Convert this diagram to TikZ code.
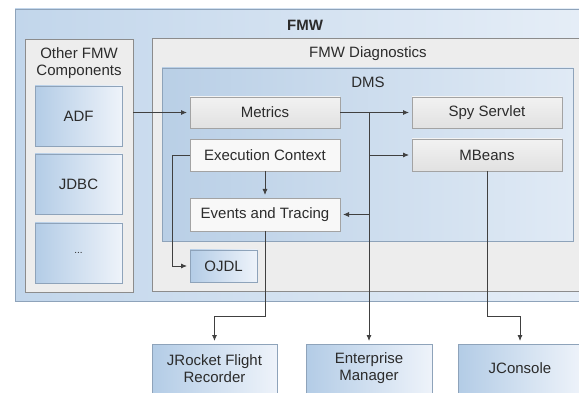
\documentclass[tikz,border=0pt]{standalone}
\usepackage{fontspec}
\setmainfont{Liberation Sans}
\usetikzlibrary{fit,arrows.meta,shadows}
\definecolor{fmwL}{HTML}{C2D6EB}
\definecolor{fmwR}{HTML}{E6EEF7}
\definecolor{dmsL}{HTML}{B9CFE6}
\definecolor{dmsR}{HTML}{E0EAF5}
\definecolor{bL}{HTML}{B3CCE6}
\definecolor{bR}{HTML}{EEF3FA}
\definecolor{contg}{HTML}{EDEDED}
\definecolor{bordg}{HTML}{8C8C8C}
\definecolor{bordb}{HTML}{8EA3BA}
\definecolor{gtop}{HTML}{F2F2F2}
\definecolor{gbot}{HTML}{E1E1E1}
\definecolor{wbox}{HTML}{F8F8F8}
\definecolor{txt}{HTML}{2B2B2B}
\definecolor{linec}{HTML}{404040}
\begin{document}
\begin{tikzpicture}[x=1pt,y=-1pt,
  font=\fontsize{15}{17}\selectfont, text=txt,
  every node/.style={inner sep=0pt, outer sep=0pt},
  shd/.style={drop shadow={shadow xshift=0.8pt,shadow yshift=-0.8pt,opacity=0.35,fill=black}},
  outerbox/.style={draw=bordb, line width=0.8pt, left color=fmwL, right color=fmwR},
  dmsbox/.style={draw=bordb, line width=0.8pt, left color=dmsL, right color=dmsR, shd},
  container/.style={draw=bordg, line width=0.8pt, fill=contg, shd},
  bluebox/.style={draw=bordb, line width=0.6pt, left color=bL, right color=bR, align=center, shd},
  graybox/.style={draw=bordg!80, line width=0.6pt, top color=gtop, bottom color=gbot, align=center, shd},
  whitebox/.style={draw=bordg!80, line width=0.6pt, fill=wbox, align=center, shd},
  conn/.style={draw=linec, line width=0.8pt},
  arr/.style={conn, -{Latex[length=6pt,width=5pt]}, shorten >=3pt},
  title/.style={align=center, text=txt}]
\useasboundingbox (0,0) rectangle (579,393);
\clip (0,0) rectangle (579,393);

% containers
\node[outerbox, fit={(15,9) (595,301)}] (fmw) {};
\node[title, font=\fontsize{15}{17}\selectfont\bfseries] (fmwt) at (305,25) {FMW};

\node[container, fit={(25,39) (133,292)}] (other) {};
\node[title] (othert) at (79,63.5) {Other FMW\\Components};

\node[container, fit={(152,38) (590,291)}] (diag) {};
\node[title] (diagt) at (368,54) {FMW Diagnostics};

\node[dmsbox, fit={(162,68) (573,241)}] (dms) {};
\node[title] (dmst) at (368,82) {DMS};

% left components
\node[bluebox, fit={(35,86) (122,146)}] (adf) {};
\node at (adf.center) {ADF};
\node[bluebox, fit={(35,154) (122,214)}] (jdbc) {};
\node at (jdbc.center) {JDBC};
\node[bluebox, fit={(35,223) (122,283)}] (dots) {};
\node at (dots.center) {\fontsize{10}{12}\selectfont ...};

% DMS components
\node[graybox, fit={(190,97) (340,128)}] (metrics) {};
\node at (metrics.center) {Metrics};
\node[whitebox, fit={(190,139) (340,171)}] (exec) {};
\node at (exec.center) {Execution Context};
\node[whitebox, fit={(190,198) (340,231)}] (events) {};
\node at (events.center) {Events and Tracing};
\node[graybox, fit={(412,97) (562,128)}] (spy) {};
\node at (spy.center) {Spy Servlet};
\node[graybox, fit={(412,139) (562,171)}] (mbeans) {};
\node at (mbeans.center) {MBeans};
\node[bluebox, fit={(190,250) (257,282)}] (ojdl) {};
\node at (ojdl.center) {OJDL};

% external tools
\node[bluebox, fit={(152,344) (277,393)}] (jrocket) {};
\node[align=center] at (jrocket.center) {JRocket Flight\\Recorder};
\node[bluebox, fit={(306,344) (432,393)}] (em) {};
\node[align=center] at (em.center) {Enterprise\\Manager};
\node[bluebox, fit={(458,344) (582,393)}] (jconsole) {};
\node at (jconsole.center) {JConsole};

% helper coordinates
\coordinate (ojx) at (172,0);
\coordinate (low) at (0,316);

% connectors
\draw[arr] (other.east |- metrics.west) -- (metrics.west);
\draw[arr] (metrics.east) -- (spy.west);
\draw[arr] (metrics.east -| em.north) -- (em.north);
\draw[arr] (mbeans.west -| em.north) -- (mbeans.west);
\draw[arr] (events.east -| em.north) -- (events.east);
\draw[arr] (exec.south) -- (events.north);
\draw[arr] (exec.west) -- (exec.west -| ojx) |- (ojdl.west);
\draw[arr] (events.south) -- (events.south |- low) -| (jrocket.north);
\draw[arr] (mbeans.south) -- (mbeans.south |- low) -| (jconsole.north);
\end{tikzpicture}
\end{document}
